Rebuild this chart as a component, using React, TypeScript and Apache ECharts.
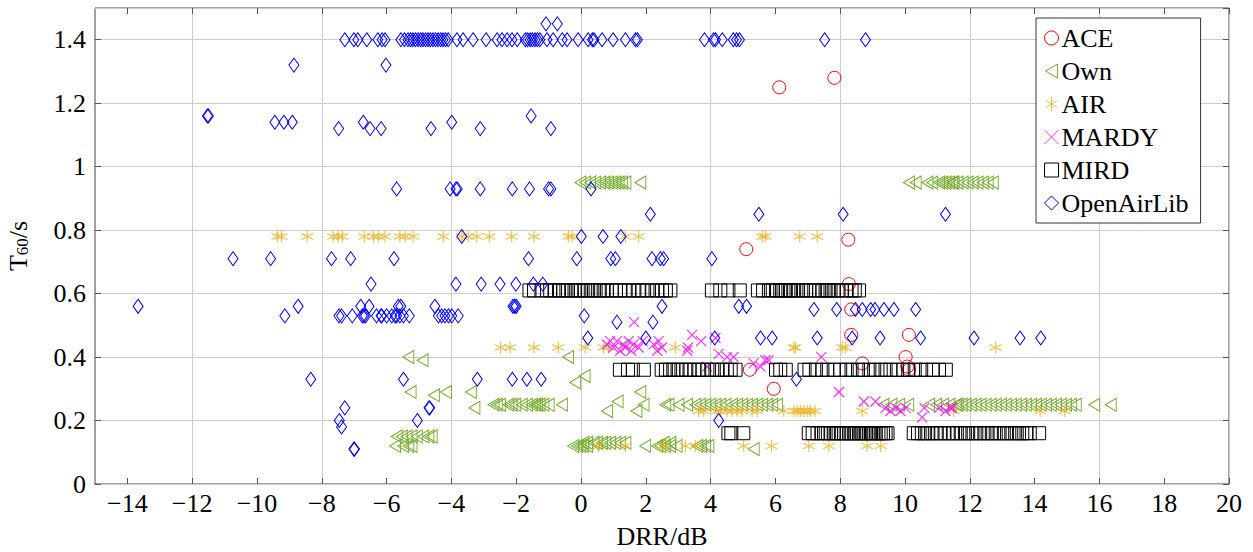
import React, { useEffect, useRef } from "react";
import * as echarts from "echarts";

const FONT = '"Liberation Serif", "Times New Roman", serif';

const X_TICKS = [-14, -12, -10, -8, -6, -4, -2, 0, 2, 4, 6, 8, 10, 12, 14, 16, 18, 20];

// ---------- ACE ----------
const ACE_POINTS: [number, number][] = [
  [6.12, 1.25], [7.82, 1.28], [8.25, 0.77], [5.1, 0.74], [8.27, 0.63], [8.34, 0.55],
  [8.34, 0.47], [10.12, 0.47], [8.68, 0.38], [10.02, 0.4], [10.07, 0.37], [10.12, 0.36],
  [5.21, 0.36], [5.95, 0.3],
];

// ---------- Own ----------
const OWN_X_095 = [-0.02, 0.13, 0.28, 0.44, 0.59, 0.72, 0.83, 0.95, 1.06, 1.16, 1.26, 1.37, 1.83,
  10.12, 10.33, 10.69, 10.84, 11.05, 11.15, 11.25, 11.36, 11.46, 11.5, 11.62, 11.78, 11.93, 12.09,
  12.24, 12.4, 12.55, 12.71];
const OWN_X_025 = [-2.7, -2.6, -2.5, -2.24, -2.14, -2.03, -1.83, -1.67, -1.52, -1.42, -1.36, -1.28,
  -1.16, -1.0, -0.59, 2.7, 3.01, 3.27, 3.53, 3.68, 3.84, 3.99, 4.15, 4.3, 4.46, 4.66, 4.82, 4.97,
  5.13, 5.28, 5.44, 5.59, 5.75, 5.9, 6.05, 9.33, 9.58, 9.82, 10.1, 10.74, 10.96, 11.17, 11.37,
  11.57, 11.63, 11.75, 11.87, 12.03, 12.18, 12.33, 12.49, 12.65, 12.8, 12.96, 13.11, 13.27, 13.42,
  13.58, 13.73, 13.89, 14.04, 14.19, 14.35, 14.5, 14.66, 14.81, 14.97, 15.12, 15.27, 15.84, 16.35];
const OWN_X_015 = [-5.69, -5.53, -5.38, -5.23, -5.07, -4.87, -4.71, -4.61];
const OWN_X_013 = [0.07, 0.19, 0.39, 0.49, 0.65, 0.75, 0.9, 1.06, 1.21, 1.37, 2.55, 2.76];
const OWN_X_012 = [-5.74, -5.49, -5.33, -5.23, -0.24, -0.12, -0.02, 0.07, 0.19, 1.98, 2.35, 2.45,
  2.6, 2.75, 2.95, 3.59, 3.7, 3.83, 3.93];
const OWN_POINTS: [number, number][] = [
  [-5.33, 0.4], [-4.89, 0.39], [-0.4, 0.4], [-5.26, 0.29], [-4.54, 0.28], [-4.17, 0.29],
  [-3.4, 0.29], [-3.29, 0.24], [-0.18, 0.32], [0.11, 0.34], [1.83, 0.29], [1.13, 0.26],
  [0.8, 0.23], [1.71, 0.23], [1.93, 0.25], [2.6, 0.25], [5.33, 0.11],
];

// ---------- AIR ----------
const AIR_X_078 = [-9.37, -9.24, -8.45, -7.65, -7.49, -7.37, -6.69, -6.41, -6.26, -6.05, -5.59,
  -5.43, -5.18, -4.25, -3.68, -3.48, -3.22, -2.83, -2.14, -1.45, -0.39, -0.28, 1.37, 1.78, 5.59,
  5.69, 6.75, 7.29];
const AIR_X_043 = [-2.48, -2.19, -1.45, -0.7, 0.13, 0.7, 0.85, 2.91, 6.57, 6.62, 8.06, 8.16, 12.8];
const AIR_X_023 = [3.63, 3.79, 4.2, 4.3, 4.51, 4.66, 4.82, 4.97, 5.28, 5.44, 6.26, 6.57, 6.67,
  6.77, 6.88, 6.98, 7.08, 7.22, 8.68, 11.5, 14.17, 14.93];
const AIR_X_012 = [0.54, 1.37, 2.55, 3.22, 3.53, 5.02, 5.88, 7.03, 7.65, 8.83, 9.25];

// ---------- MARDY ----------
const MARDY_POINTS: [number, number][] = [
  [1.64, 0.51], [0.8, 0.44], [0.9, 0.45], [1.0, 0.43], [1.11, 0.45], [1.21, 0.42], [1.3, 0.44],
  [1.37, 0.43], [1.47, 0.45], [1.55, 0.42], [1.62, 0.44], [1.78, 0.43], [1.9, 0.45], [2.24, 0.44],
  [2.35, 0.42], [2.4, 0.45], [2.5, 0.43], [3.28, 0.42], [3.3, 0.43], [3.43, 0.47], [3.71, 0.45],
  [3.89, 0.37], [4.15, 0.46], [4.25, 0.41], [4.51, 0.4], [4.71, 0.4], [5.33, 0.38], [5.54, 0.37],
  [5.69, 0.39], [5.79, 0.39], [7.42, 0.4], [7.96, 0.29], [8.73, 0.26], [9.09, 0.26], [9.4, 0.24],
  [9.55, 0.23], [9.72, 0.24], [9.86, 0.23], [10.02, 0.24], [10.53, 0.21], [10.6, 0.24],
  [11.05, 0.24], [11.25, 0.23], [11.41, 0.24], [11.46, 0.24],
];

// ---------- MIRD ----------
const MIRD_X_061 = [-1.59, -1.45, -1.22, -1.05, -0.95, -0.8, -0.68, -0.55, -0.45, -0.3, -0.2, -0.1,
  0.0, 0.12, 0.22, 0.35, 0.45, 0.58, 0.7, 0.8, 0.95, 1.08, 1.2, 1.35, 1.48, 1.62, 1.78, 1.9, 2.05,
  2.2, 2.35, 2.5, 2.62, 2.76, 4.04, 4.3, 4.55, 4.9, 5.46, 5.62, 5.8, 5.92, 6.05, 6.15, 6.25, 6.32,
  6.4, 6.48, 6.58, 6.7, 6.85, 6.95, 7.05, 7.2, 7.35, 7.45, 7.55, 7.62, 7.7, 7.8, 7.92, 8.05, 8.2,
  8.35, 8.45, 8.58];
const MIRD_X_036 = [1.2, 1.45, 1.6, 1.94, 2.49, 2.62, 2.75, 2.85, 2.98, 3.1, 3.25, 3.35, 3.5, 3.62,
  3.75, 3.9, 4.05, 4.2, 4.35, 4.5, 4.62, 4.77, 6.02, 6.15, 6.32, 6.9, 7.05, 7.25, 7.45, 7.6, 7.8,
  8.0, 8.2, 8.35, 8.55, 8.7, 8.9, 9.05, 9.25, 9.4, 9.55, 9.75, 9.95, 10.1, 10.3, 10.5, 10.65,
  10.85, 11.05, 11.26];
const MIRD_X_016 = [4.55, 4.64, 5.01, 7.03, 7.15, 7.3, 7.42, 7.5, 7.62, 7.72, 7.8, 7.88, 7.95, 8.05,
  8.12, 8.2, 8.28, 8.35, 8.42, 8.5, 8.58, 8.65, 8.72, 8.8, 8.88, 8.95, 9.02, 9.1, 9.18, 9.25, 9.32,
  9.4, 9.46, 10.27, 10.4, 10.52, 10.62, 10.72, 10.85, 10.98, 11.1, 11.22, 11.35, 11.48, 11.6,
  11.72, 11.85, 11.95, 12.08, 12.2, 12.32, 12.45, 12.55, 12.68, 12.8, 12.92, 13.05, 13.15, 13.28,
  13.4, 13.52, 13.62, 13.75, 13.85, 14.14];

// ---------- OpenAirLib ----------
const OAL_X_140 = [-7.29, -7.01, -6.89, -6.61, -6.27, -6.14, -6.05, -5.56, -5.45, -5.34, -5.26,
  -5.19, -5.11, -5.03, -4.95, -4.88, -4.8, -4.72, -4.65, -4.57, -4.49, -4.41, -4.33, -4.26, -4.18,
  -4.1, -3.83, -3.64, -3.33, -2.93, -2.59, -2.44, -2.28, -2.13, -1.97, -1.72, -1.65, -1.57, -1.5,
  -1.42, -1.35, -1.27, -1.05, -0.86, -0.58, -0.43, -0.09, 0.22, 0.35, 0.4, 0.65, 0.99, 1.37, 1.68,
  1.74, 3.81, 4.09, 4.15, 4.36, 4.7, 4.8, 4.89, 7.52, 8.78];
const OAL_X_093 = [-5.69, -4.04, -3.86, -3.82, -3.11, -2.12, -1.59, -1.0, -0.93, 0.31];
const OAL_X_071 = [-10.74, -9.58, -7.7, -7.11, -5.77, -1.62, -0.13, 0.92, 1.06, 2.19, 2.45, 2.55, 4.04];
const OAL_X_063 = [-6.48, -3.86, -3.08, -2.5, -2.01, -1.47, -1.18];
const OAL_X_056 = [-13.67, -8.73, -6.8, -6.54, -5.64, -5.56, -4.51, -2.1, -2.05, -2.0, 2.5, 4.87, 5.11];
const OAL_X_055 = [7.19, 7.89, 8.47, 8.68, 8.94, 9.07, 9.35, 9.66, 10.33];
const OAL_X_053 = [-9.14, -7.47, -7.39, -7.06, -6.75, -6.7, -6.65, -6.31, -6.17, -6.15, -6.0, -5.84,
  -5.74, -5.69, -5.59, -5.48, -5.3, -4.4, -4.3, -4.2, -4.09, -3.99, -3.79, 0.1];
const OAL_X_046 = [0.21, 2.0, 4.13, 5.54, 5.9, 7.29, 8.37, 9.23, 10.48, 12.13, 13.55, 14.19];
const OAL_X_033 = [-8.34, -5.48, -3.2, -2.12, -1.67, -1.23, 6.65];
const OAL_POINTS: [number, number][] = [
  [-1.08, 1.45], [-0.73, 1.45], [-8.86, 1.32], [-6.02, 1.32], [-11.53, 1.16], [-11.5, 1.16],
  [-1.54, 1.16], [-9.45, 1.14], [-9.17, 1.14], [-8.91, 1.14], [-6.72, 1.14], [-3.99, 1.14],
  [-7.48, 1.12], [-6.51, 1.12], [-6.17, 1.12], [-4.63, 1.12], [-3.11, 1.12], [-0.93, 1.12],
  [2.14, 0.85], [5.49, 0.85], [8.09, 0.85], [11.25, 0.85], [-3.68, 0.78], [0.01, 0.78],
  [0.68, 0.78], [1.23, 0.78], [1.11, 0.51], [2.22, 0.51], [-7.29, 0.24], [-4.69, 0.24],
  [-4.67, 0.24], [-7.46, 0.2], [-5.05, 0.2], [4.25, 0.2], [-7.39, 0.18], [-7.01, 0.11], [-6.99, 0.11],
];

const row = (y: number, xs: number[]): [number, number][] => xs.map((x) => [x, y]);

const aceData = ACE_POINTS;
const ownData = [
  ...row(0.95, OWN_X_095), ...row(0.25, OWN_X_025), ...row(0.15, OWN_X_015),
  ...row(0.13, OWN_X_013), ...row(0.12, OWN_X_012), ...OWN_POINTS,
];
const airData = [
  ...row(0.78, AIR_X_078), ...row(0.43, AIR_X_043), ...row(0.23, AIR_X_023), ...row(0.12, AIR_X_012),
];
const mardyData = MARDY_POINTS;
const mirdData = [...row(0.61, MIRD_X_061), ...row(0.36, MIRD_X_036), ...row(0.16, MIRD_X_016)];
const oalData = [
  ...row(1.4, OAL_X_140), ...row(0.93, OAL_X_093), ...row(0.71, OAL_X_071), ...row(0.63, OAL_X_063),
  ...row(0.56, OAL_X_056), ...row(0.55, OAL_X_055), ...row(0.53, OAL_X_053), ...row(0.46, OAL_X_046),
  ...row(0.33, OAL_X_033), ...OAL_POINTS,
];

const ASTERISK = "path://M5,0L5,10M0.67,2.5L9.33,7.5M0.67,7.5L9.33,2.5";
const CROSS = "path://M0,0L10,10M0,10L10,0";
const LEFT_TRI = "path://M11,0L0,6.5L11,13Z";

const hollow = (c: string, w = 1) => ({ color: "transparent", borderColor: c, borderWidth: w, opacity: 1 });

const fmtX = (v: number) => (v < 0 ? "\u2212" + Math.abs(v) : String(v));

export default function App() {
  const ref = useRef<HTMLDivElement>(null);
  useEffect(() => {
    if (!ref.current) return;
    const chart = echarts.init(ref.current, null, { renderer: "svg" });
    const tickStyle = { color: "#555", width: 1 };
    const baseScatter = { type: "scatter" as const, z: 3, silent: true, emphasis: { disabled: true } };
    chart.setOption({
      animation: false,
      backgroundColor: "#fff",
      grid: {
        left: 95, right: 24, top: 8, bottom: 68, containLabel: false, outerBoundsMode: "none",
        show: true, borderColor: "#444", borderWidth: 1, backgroundColor: "transparent",
      },
      legend: {
        data: [
          { name: "ACE" },
          { name: "Own", icon: LEFT_TRI },
          { name: "AIR" },
          { name: "MARDY" },
          { name: "MIRD" },
          { name: "OpenAirLib" },
        ],
        orient: "vertical",
        left: 1036,
        top: 18,
        backgroundColor: "#fff",
        borderColor: "#333",
        borderWidth: 1,
        borderRadius: 0,
        padding: [7, 12, 7, 8],
        itemGap: 7,
        itemWidth: 14,
        itemHeight: 14,
        itemStyle: { borderWidth: 1 },
        textStyle: { fontFamily: FONT, fontSize: 26, color: "#000", padding: [0, 0, 0, -2] },
        selectedMode: false,
      },
      xAxis: [
        {
          type: "value", min: -15, max: 20, interval: 1, position: "bottom",
          axisLine: { show: false, onZero: false },
          axisTick: { show: true, inside: true, length: 6, customValues: X_TICKS, lineStyle: tickStyle },
          axisLabel: { customValues: X_TICKS, formatter: fmtX, fontFamily: FONT, fontSize: 26, color: "#000", margin: 6 },
          splitLine: { show: true, lineStyle: { color: ["transparent", "#cccccc"], width: 1 } },
          name: "DRR/dB", nameLocation: "middle", nameGap: 42, nameMoveOverlap: false,
          nameTextStyle: { fontFamily: FONT, fontSize: 26, lineHeight: 20, color: "#000" },
        },
        {
          type: "value", min: -15, max: 20, interval: 1, position: "top",
          axisLine: { show: false, onZero: false },
          axisTick: { show: true, inside: true, length: 6, customValues: X_TICKS, lineStyle: tickStyle },
          axisLabel: { show: false },
          splitLine: { show: false },
        },
      ],
      yAxis: [
        {
          type: "value", min: 0, max: 1.5, interval: 0.2, position: "left",
          axisLine: { show: false, onZero: false },
          axisTick: { show: true, inside: true, length: 6, lineStyle: tickStyle },
          axisLabel: { fontFamily: FONT, fontSize: 26, color: "#000", margin: 9, showMaxLabel: false },
          splitLine: { show: true, lineStyle: { color: "#cccccc", width: 1 } },
          name: "T{sub|60}/s", nameLocation: "middle", nameGap: 64, nameMoveOverlap: false,
          nameTextStyle: {
            fontFamily: FONT, fontSize: 26, color: "#000",
            rich: { sub: { fontFamily: FONT, fontSize: 17, color: "#000", verticalAlign: "bottom", lineHeight: 26 } },
          },
        },
        {
          type: "value", min: 0, max: 1.5, interval: 0.2, position: "right",
          axisLine: { show: false, onZero: false },
          axisTick: { show: true, inside: true, length: 6, lineStyle: tickStyle },
          axisLabel: { show: false },
          splitLine: { show: false },
        },
      ],
      series: [
        { ...baseScatter, name: "ACE", data: aceData, symbol: "circle", symbolSize: 13, itemStyle: hollow("#ff0000") },
        { ...baseScatter, name: "Own", data: ownData, symbol: LEFT_TRI, symbolSize: [11, 13], itemStyle: hollow("#77ac30") },
        { ...baseScatter, name: "AIR", data: airData, symbol: ASTERISK, symbolSize: 12, itemStyle: { color: "transparent", borderColor: "#edb120", borderWidth: 1.2 } },
        { ...baseScatter, name: "MARDY", data: mardyData, symbol: CROSS, symbolSize: 10, itemStyle: { color: "transparent", borderColor: "#ff00ff", borderWidth: 1.2 } },
        { ...baseScatter, name: "MIRD", data: mirdData, symbol: "rect", symbolSize: 13, itemStyle: hollow("#000000") },
        { ...baseScatter, name: "OpenAirLib", data: oalData, symbol: "diamond", symbolSize: [10, 14], itemStyle: hollow("#0000ff") },
      ],
    });
    return () => chart.dispose();
  }, []);
  return <div ref={ref} style={{ position: "absolute", left: 0, top: 0, width: 1253, height: 552, background: "#fff" }} />;
}
